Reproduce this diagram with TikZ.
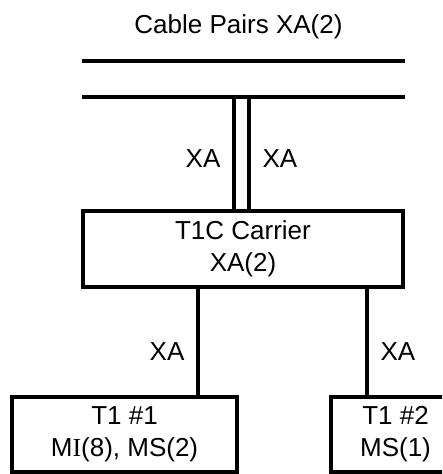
\documentclass[tikz,border=0pt]{standalone}
\usepackage{fontspec}
\setmainfont{Liberation Sans}
\newfontfamily\serfont{Liberation Serif}
\usetikzlibrary{positioning}

\begin{document}
\begin{tikzpicture}[x=1pt, y=-1pt,
	b/.style = {rectangle, draw, line width=3.3pt, align=center, inner sep=0},
	w/.style = {line width=3.3pt},
	l/.style = {inner sep=0},
	every node/.style = {font=\fontsize{26}{32}\selectfont}
	]
	\useasboundingbox (0, 0) rectangle (442, 474);
	\clip (0, 0) rectangle (442, 474);
	
	%Nodes
	\node[anchor=base]	(title)	at	(238.5, 33)	{Cable Pairs XA(2)};
	\node[b, minimum width=320, minimum height=76]	(t1c)	at	(243, 249)		{T1C Carrier\\XA(2)};
	\node[b, minimum width=225, minimum height=75]	(t1a)	at	(124.5, 434.5)	{T1 \#1\\M{\serfont I}(8), MS(2)};
	\node[b, minimum width=129, minimum height=75]	(t1b)	at	(395.5, 434.5)	{T1 \#2\\MS(1)};
	
	\coordinate	(c1-l)	at	(82, 61);
	\coordinate	(c1-r)	at	(405, 61);
	\coordinate	(c2-l)	at	(82, 97);
	\coordinate	(c2-r)	at	(405, 97);
	\coordinate	(p1)	at	(234, 97);
	\coordinate	(p2)	at	(249, 97);
	\coordinate	(d1)	at	(198, 287);
	\coordinate	(d2)	at	(367, 287);
	
	%Lines
	\draw[w]	(c1-l)	--	(c1-r);
	\draw[w]	(c2-l)	--	(c2-r);
	\draw[w]	(p1)	--	node[l, left=12pt, pos=.55]		{XA}	(p1 |- t1c.north);
	\draw[w]	(p2)	--	node[l, right=12pt, pos=.55]	{XA}	(p2 |- t1c.north);
	\draw[w]	(d1)	--	node[l, left=12pt, pos=.6]		{XA}	(d1 |- t1a.north);
	\draw[w]	(d2)	--	node[l, right=12pt, pos=.6]		{XA}	(d2 |- t1b.north);
	
\end{tikzpicture}
\end{document}
